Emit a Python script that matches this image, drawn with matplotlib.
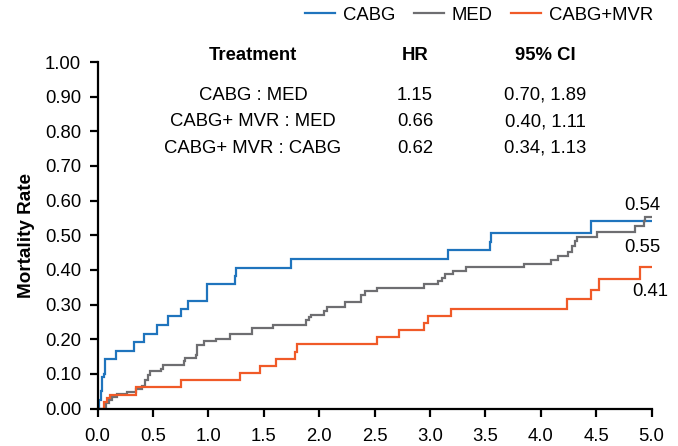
import matplotlib
matplotlib.use("Agg")
import matplotlib.pyplot as plt
from matplotlib.ticker import FormatStrFormatter

plt.rcParams['font.family'] = ['Liberation Sans', 'DejaVu Sans']

# ---- data ----
cabg_t = [0, 0.015, 0.03, 0.045, 0.055, 0.07, 0.17, 0.33, 0.42, 0.54, 0.64, 0.75, 0.82, 0.99,
          1.24, 1.25, 1.75, 3.16, 3.54, 3.55, 4.45, 5.0]
cabg_v = [0, 0.025, 0.05, 0.09, 0.10, 0.144, 0.165, 0.192, 0.214, 0.24, 0.267, 0.287, 0.31, 0.359,
          0.383, 0.406, 0.432, 0.456, 0.48, 0.506, 0.54, 0.54]

med_t = [0, 0.08, 0.10, 0.13, 0.18, 0.27, 0.35, 0.40, 0.43, 0.46, 0.47, 0.57, 0.59, 0.78, 0.79,
         0.89, 0.90, 0.96, 1.07, 1.20, 1.39, 1.58, 1.88, 1.91, 1.93, 2.04, 2.07, 2.23, 2.38, 2.41,
         2.52, 2.95, 3.07, 3.11, 3.14, 3.21, 3.33, 3.85, 4.09, 4.16, 4.25, 4.28, 4.31, 4.33, 4.51,
         4.85, 4.93, 4.94, 5.0]
med_v = [0, 0.015, 0.025, 0.033, 0.043, 0.047, 0.057, 0.064, 0.083, 0.096, 0.107, 0.115, 0.125,
         0.136, 0.147, 0.154, 0.183, 0.194, 0.202, 0.216, 0.231, 0.24, 0.255, 0.263, 0.27, 0.282,
         0.292, 0.308, 0.328, 0.339, 0.349, 0.358, 0.369, 0.378, 0.387, 0.398, 0.407, 0.417, 0.429,
         0.44, 0.453, 0.468, 0.482, 0.495, 0.508, 0.527, 0.54, 0.553, 0.553]

mvr_t = [0, 0.06, 0.085, 0.115, 0.35, 0.75, 1.29, 1.47, 1.61, 1.78, 1.80, 2.52, 2.72, 2.95, 2.98,
         3.19, 4.24, 4.45, 4.53, 4.90, 5.0]
mvr_v = [0, 0.018, 0.03, 0.04, 0.062, 0.083, 0.102, 0.122, 0.144, 0.163, 0.186, 0.207, 0.226,
         0.246, 0.267, 0.286, 0.315, 0.342, 0.373, 0.408, 0.408]

series_names = ["CABG", "MED", "CABG+MVR"]
end_labels = ["0.54", "0.55", "0.41"]

table_header = ["Treatment", "HR", "95% CI"]
table_treat = ["CABG : MED", "CABG+ MVR : MED", "CABG+ MVR : CABG"]
table_hr = ["1.15", "0.66", "0.62"]
table_ci = ["0.70, 1.89", "0.40, 1.11", "0.34, 1.13"]

colors = ["#1F74BD", "#6E6E71", "#F05A28"]
FS = 13.3

# ---- figure ----
fig = plt.figure(figsize=(6.78, 4.46), dpi=100)
ax = fig.add_axes([97.5 / 678, 1 - 408.5 / 446, (651.5 - 97.5) / 678, (408.5 - 62) / 446])

lines = []
for t, v, c, n in zip([cabg_t, med_t, mvr_t], [cabg_v, med_v, mvr_v], colors, series_names):
    ln, = ax.step(t, v, where='post', color=c, lw=1.6, label=n, solid_joinstyle='miter')
    lines.append(ln)

ax.set_xlim(0, 5.0)
ax.set_ylim(0, 1.0)
ax.set_xticks([i * 0.5 for i in range(11)])
ax.set_yticks([i * 0.1 for i in range(11)])
ax.xaxis.set_major_formatter(FormatStrFormatter('%.1f'))
ax.yaxis.set_major_formatter(FormatStrFormatter('%.2f'))
for s in ['top', 'right']:
    ax.spines[s].set_visible(False)
for s in ['left', 'bottom']:
    ax.spines[s].set_linewidth(1.6)
ax.tick_params(axis='both', direction='out', length=5.8, width=1.6, labelsize=FS)
ax.tick_params(axis='x', pad=8.5)
ax.tick_params(axis='y', pad=6)
ax.set_ylabel("Mortality Rate", fontsize=13.6, fontweight='bold', labelpad=7)

# end labels
ax.text(4.92, 0.585, end_labels[0], fontsize=FS, ha='center', va='center')
ax.text(4.92, 0.464, end_labels[1], fontsize=FS, ha='center', va='center')
ax.text(4.99, 0.338, end_labels[2], fontsize=FS, ha='center', va='center')

# table
def fx(px):
    return px / 678

def fy(py):
    return 1 - py / 446

col_x = [253, 415, 545]
for j in range(3):
    fig.text(fx(col_x[j]), fy(55), table_header[j], fontsize=FS, fontweight='bold',
             ha='center', va='center')
row_y = [95, 121.5, 148]
for i in range(3):
    fig.text(fx(col_x[0]), fy(row_y[i]), table_treat[i], fontsize=FS, ha='center', va='center')
    fig.text(fx(col_x[1]), fy(row_y[i]), table_hr[i], fontsize=FS, ha='center', va='center')
    fig.text(fx(col_x[2]), fy(row_y[i]), table_ci[i], fontsize=FS, ha='center', va='center')

# legend
fig.legend(handles=lines, labels=series_names, loc='center right',
           bbox_to_anchor=(fx(653), fy(15)), ncol=3, frameon=False, fontsize=FS,
           handlelength=1.65, handletextpad=0.4, columnspacing=1.0, borderpad=0,
           borderaxespad=0)

fig.savefig("out.png", dpi=100)
